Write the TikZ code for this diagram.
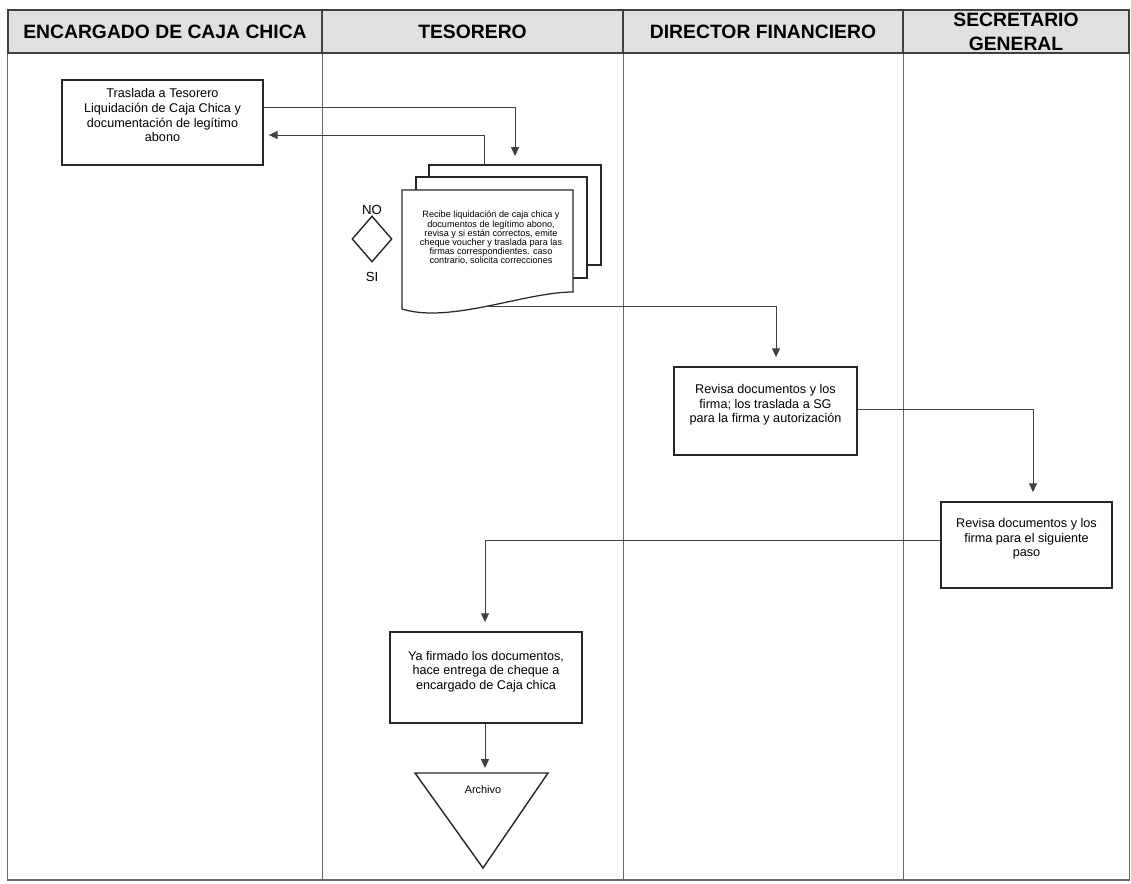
\documentclass[tikz,border=0pt]{standalone}
\usepackage{fontspec}
\setmainfont{Liberation Sans}
\usetikzlibrary{arrows.meta,shapes.geometric}

\tikzset{
  lanehead/.style={draw=black!75, fill=black!12, line width=0.8pt, minimum height=0.86cm,
    inner sep=0pt, align=center, font=\fontsize{11}{13}\selectfont\bfseries},
  laneline/.style={draw=black!60, line width=0.6pt},
  procbox/.style={draw=black!85, fill=white, line width=1pt, inner sep=0pt, align=center,
    font=\fontsize{7.2}{8.3}\selectfont},
  docline/.style={draw=black!85, fill=white, line width=0.7pt},
  flow/.style={draw=black!75, line width=0.5pt, -{Triangle[length=5pt,width=4.5pt]}, shorten >=0.18cm},
}

\begin{document}
\begin{tikzpicture}[x=0.02cm, y=-0.02cm]
   \useasboundingbox (0,0) rectangle (1131,884);

   % lanes
   \node [lanehead, minimum width=6.28cm] (h1) at (165,31.5) {ENCARGADO DE CAJA CHICA};
   \node [lanehead, minimum width=6.02cm] (h2) at (472.5,31.5) {TESORERO};
   \node [lanehead, minimum width=5.6cm] (h3) at (763,31.5) {DIRECTOR FINANCIERO};
   \node [lanehead, minimum width=4.52cm] (h4) at (1016,31.5) {SECRETARIO\\[0.5pt]GENERAL};
   \coordinate (bot) at (0,880);
   \draw [laneline] (h1.south west) -- (h1.south west |- bot) -- (h4.south east |- bot) -- (h4.south east);
   \foreach \h in {h1,h2,h3}
      \draw [laneline] (\h.south east) -- (\h.south east |- bot);

   % encargado
   \node [procbox, minimum width=4.02cm, minimum height=1.7cm] (traslada) at (162.5,122.5)
      {Traslada a Tesorero\\Liquidación de Caja Chica y\\documentación de legítimo\\abono\\~};

   % tesorero: documentos
   \draw [docline] (429,165) rectangle (601,265);
   \draw [docline] (416,177) rectangle (587,278);
   \draw [docline] (402,190) -- (573,190) -- (573,292)
      .. controls (525,292) and (450,324) .. (402,309) -- cycle;
   \node [align=center, font=\fontsize{5.2}{5.2}\selectfont] (recibe) at (491,238)
      {Recibe liquidación de caja chica y\\documentos de legítimo abono,\\revisa y si están correctos, emite\\cheque voucher y traslada para las\\firmas correspondientes. caso\\contrario, solicita correcciones};
   \node [diamond, draw=black!85, line width=0.8pt, minimum width=0.8cm, minimum height=0.92cm, inner sep=0pt,
      label={[font=\fontsize{7.5}{9}\selectfont, label distance=-3pt]above:NO},
      label={[font=\fontsize{7.5}{9}\selectfont, label distance=2pt]below:SI}] (decide) at (372,239) {};

   % director
   \node [procbox, minimum width=3.66cm, minimum height=1.76cm] (revisa) at (765.5,411)
      {Revisa documentos y los\\firma; los traslada a SG\\para la firma y autorización\\~};

   % secretario
   \node [procbox, minimum width=3.42cm, minimum height=1.72cm] (firma) at (1026.5,545)
      {Revisa documentos y los\\firma para el siguiente\\paso\\~};

   % entrega y archivo
   \node [procbox, minimum width=3.84cm, minimum height=1.82cm] (entrega) at (486,677.5)
      {Ya firmado los documentos,\\hace entrega de cheque a\\encargado de Caja chica\\~};
   \draw [docline, line width=0.8pt] (415,773) -- (548,773) -- (483,868) -- cycle;
   \node [font=\fontsize{6.2}{7}\selectfont] (archivo) at (483,790) {Archivo};

   % conectores
   \coordinate (t1) at (515,107);
   \coordinate (stacktop) at (515,165);
   \draw [flow] (traslada.east |- t1) -- (t1) -- (stacktop);

   \coordinate (back) at (484,165);
   \coordinate (r1) at (484,135);
   \draw [flow, shorten >=0.1cm] (back) -- (r1) -- (traslada.east |- r1);

   \coordinate (wave) at (487,306);
   \coordinate (d1) at (776,306);
   \draw [flow] (wave) -- (d1) -- (d1 |- revisa.north);

   \coordinate (s1) at (1033,409);
   \draw [flow] (revisa.east |- s1) -- (s1) -- (s1 |- firma.north);

   \coordinate (y1) at (485,540);
   \draw [flow] (firma.west |- y1) -- (y1) -- (y1 |- entrega.north);

   \coordinate (archtop) at (485,773);
   \draw [flow, shorten >=0.1cm] (entrega.south -| archtop) -- (archtop);

\end{tikzpicture}
\end{document}
